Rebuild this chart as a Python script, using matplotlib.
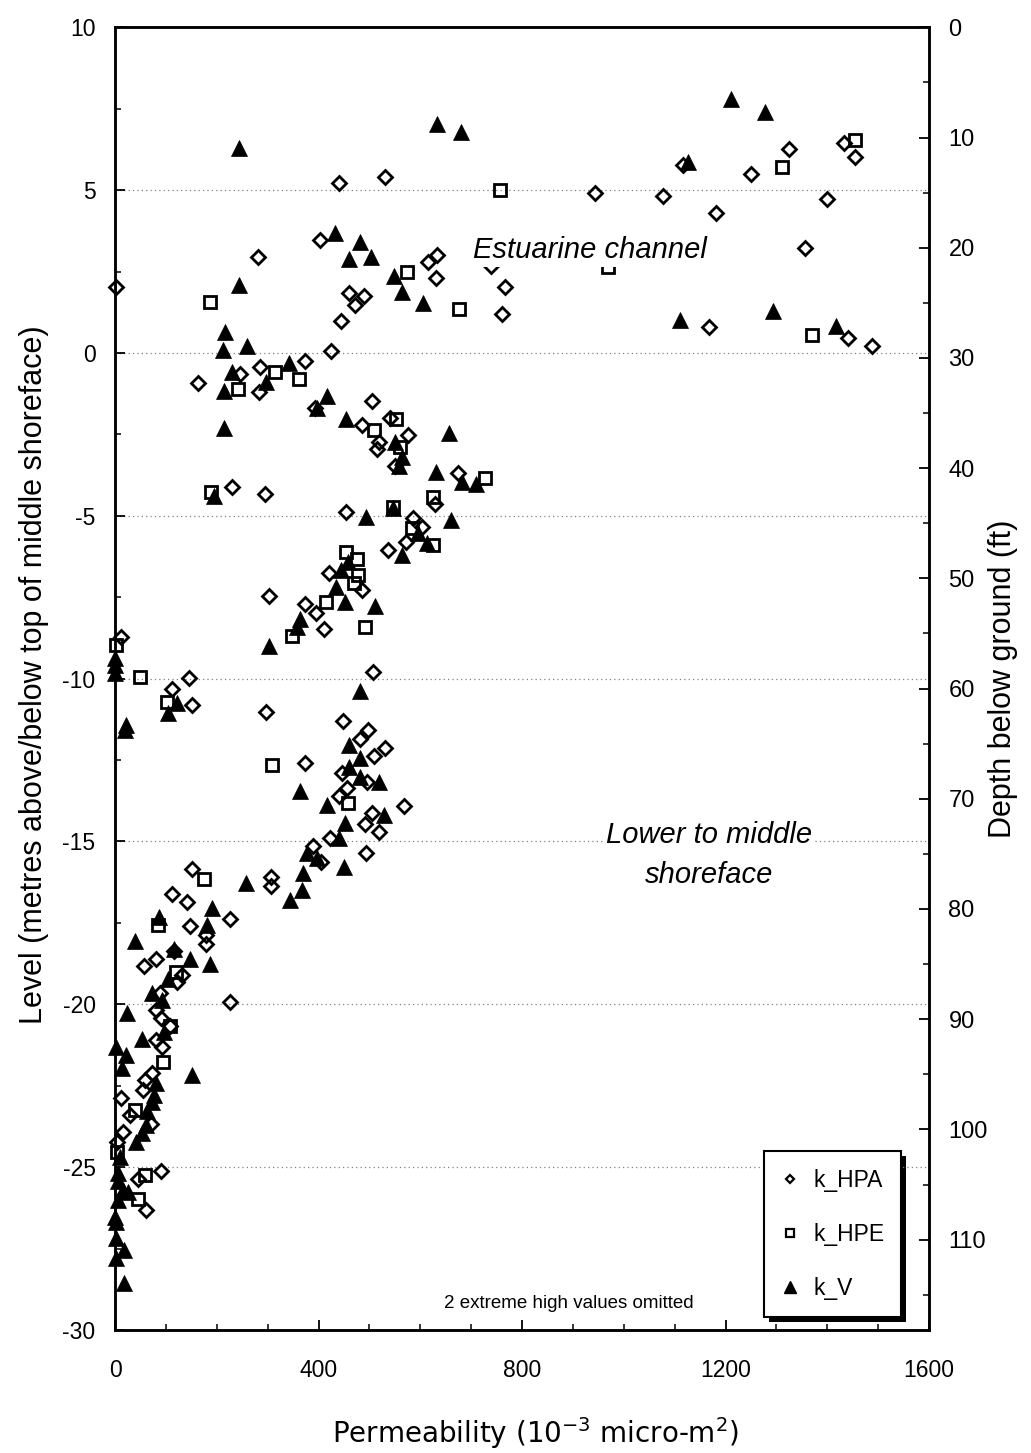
import matplotlib
matplotlib.use("Agg")
import matplotlib.pyplot as plt
from matplotlib.lines import Line2D
from matplotlib.patches import Rectangle
from matplotlib import font_manager, transforms
from matplotlib.ticker import MultipleLocator

# ---------------- data ----------------
# k_HPA (open diamonds): permeability (1e-3 micro-m2), level (m)
hpa_perm = [440, 530, 403, 281, 2, 616, 633, 630, 459, 490, 472, 444, 766, 760, 424, 739,
            1325, 1250, 1432, 1455, 1116, 944, 1078, 1182, 1400, 1357, 1168, 1441, 1488,
            374, 164, 245, 285, 284, 394, 505, 486, 540, 518, 515, 576, 550, 674,
            230, 295, 629, 455, 585, 603, 572, 537, 421, 486, 302, 373, 395, 411, 12,
            146, 508, 112, 152, 296, 448, 497, 481, 530, 509, 374, 447, 495, 456, 441,
            569, 505, 492, 519, 423, 389, 404, 494, 306, 307, 151, 113, 141, 226, 148,
            179, 179, 115, 80, 57, 131, 122, 88, 226, 80, 90, 109, 80, 93, 73, 59, 56,
            11, 29, 70, 16, 4, 91, 45, 61]
hpa_level = [5.23, 5.39, 3.47, 2.94, 2.04, 2.78, 3.01, 2.29, 1.85, 1.76, 1.47, 0.99, 2.04, 1.19, 0.06, 2.67,
             6.26, 5.50, 6.46, 6.03, 5.77, 4.90, 4.83, 4.29, 4.73, 3.21, 0.79, 0.47, 0.21,
             -0.24, -0.91, -0.64, -0.44, -1.19, -1.70, -1.47, -2.21, -1.99, -2.72, -2.95, -2.52, -3.47, -3.68,
             -4.10, -4.33, -4.64, -4.87, -5.08, -5.33, -5.79, -6.05, -6.76, -7.28, -7.46, -7.72, -7.99, -8.47, -8.71,
             -9.99, -9.80, -10.33, -10.81, -11.01, -11.30, -11.58, -11.85, -12.12, -12.37, -12.60, -12.89, -13.16, -13.35, -13.60,
             -13.90, -14.13, -14.46, -14.70, -14.90, -15.13, -15.62, -15.34, -16.08, -16.36, -15.84, -16.61, -16.85, -17.38, -17.61,
             -17.87, -18.15, -18.35, -18.62, -18.82, -19.10, -19.30, -19.66, -19.92, -20.17, -20.41, -20.68, -21.09, -21.32, -22.10, -22.32, -22.63,
             -22.88, -23.39, -23.67, -23.91, -24.22, -25.11, -25.37, -26.31]

# k_HPE (open squares)
hpe_perm = [757, 187, 573, 676, 970, 1311, 1454, 1371, 241, 314, 361, 509, 553, 561, 727,
            188, 626, 547, 583, 626, 455, 476, 478, 470, 414, 491, 347, 2, 50, 102,
            309, 458, 175, 85, 119, 109, 94, 39, 4, 58, 46]
hpe_level = [5.00, 1.58, 2.48, 1.34, 2.65, 5.70, 6.54, 0.55, -1.11, -0.59, -0.80, -2.36, -2.04, -2.88, -3.85,
             -4.26, -4.43, -4.72, -5.38, -5.90, -6.10, -6.33, -6.82, -7.05, -7.64, -8.40, -8.69, -8.97, -9.96, -10.71,
             -12.65, -13.83, -16.16, -17.56, -19.02, -20.68, -21.76, -23.24, -24.52, -25.24, -25.98]

# k_V (filled triangles)
kv_perm = [244, 633, 680, 432, 482, 459, 504, 244, 549, 565, 606, 217, 213, 260,
           1211, 1277, 1127, 1111, 1293, 1418,
           342, 229, 214, 296, 215, 417, 397, 454, 550, 564, 558, 656, 630, 682, 709,
           194, 494, 547, 660, 596, 613, 565, 458, 445, 435, 453, 511, 363, 357, 303,
           0, 0, 0, 121, 105, 22, 20, 482, 459, 481, 459, 482, 518, 363, 416, 528, 452,
           440, 377, 398, 450, 370, 367, 344, 257, 191, 181, 87, 39, 115, 148, 186, 105, 72,
           93, 24, 97, 54, 1, 22, 14, 152, 80, 77, 73, 63, 60, 54, 41, 10, 5, 5, 25, 15,
           5, 0, 2, 2, 18, 1, 17]
kv_level = [6.29, 7.04, 6.79, 3.68, 3.42, 2.88, 2.96, 2.09, 2.36, 1.88, 1.53, 0.65, 0.09, 0.21,
            7.80, 7.41, 5.87, 1.01, 1.30, 0.83,
            -0.30, -0.59, -1.16, -0.88, -2.31, -1.32, -1.70, -2.04, -2.72, -3.18, -3.47, -2.47, -3.64, -3.95, -4.02,
            -4.39, -5.03, -4.75, -5.13, -5.54, -5.82, -6.20, -6.41, -6.66, -7.18, -7.65, -7.76, -8.18, -8.40, -9.00,
            -9.37, -9.58, -9.83, -10.76, -11.06, -11.42, -11.57, -10.37, -12.04, -12.44, -12.70, -13.03, -13.16, -13.45, -13.88, -14.18, -14.44,
            -14.90, -15.34, -15.51, -15.77, -15.97, -16.49, -16.79, -16.26, -17.05, -17.56, -17.31, -18.05, -18.31, -18.61, -18.76, -19.23, -19.66,
            -19.86, -20.26, -20.84, -21.07, -21.30, -21.55, -21.96, -22.17, -22.42, -22.78, -22.99, -23.29, -23.70, -23.96, -24.22, -24.68, -25.19, -25.44, -25.75, -25.70,
            -26.00, -26.52, -26.68, -27.18, -27.54, -27.80, -28.55]

series_labels = ["k_HPA", "k_HPE", "k_V"]

x_ticks = [0, 400, 800, 1200, 1600]
y_ticks = [-30, -25, -20, -15, -10, -5, 0, 5, 10]
depth_ticks = [0, 10, 20, 30, 40, 50, 60, 70, 80, 90, 100, 110]
depth_at_top = 0.0       # depth (ft) at level +10 m
depth_at_bottom = 118.2  # depth (ft) at level -30 m

# ---------------- fonts ----------------
available = {f.name for f in font_manager.fontManager.ttflist}
def pick(*names):
    for n in names:
        if n in available:
            return n
    return "DejaVu Sans"
SANS = pick("Liberation Sans", "Arial", "DejaVu Sans")
VERD = pick("DejaVu Sans")
plt.rcParams["font.family"] = SANS

# ---------------- figure ----------------
W, H = 1031, 1453
fig = plt.figure(figsize=(W / 100, H / 100), dpi=100)
ax_l, ax_r, ax_t, ax_b = 115, 929, 27.3, 1330
ax = fig.add_axes([ax_l / W, 1 - ax_b / H, (ax_r - ax_l) / W, (ax_b - ax_t) / H])
ax.set_xlim(0, 1600)
ax.set_ylim(-30, 10)

mk = dict(ls="none", clip_on=False, zorder=2)
ax.plot(hpa_perm, hpa_level, marker="D", ms=6.8, mfc="none", mec="k", mew=2.0, **mk)
ax.plot(hpe_perm, hpe_level, marker="s", ms=8.4, mfc="none", mec="k", mew=2.0, **mk)
ax.plot(kv_perm, kv_level, marker="^", ms=11.5, mfc="k", mec="k", mew=0.5, **mk)

# grid
ax.set_yticks(y_ticks)
ax.set_xticks(x_ticks)
ax.yaxis.set_minor_locator(MultipleLocator(2.5))
ax.xaxis.set_minor_locator(MultipleLocator(100))
ax.yaxis.grid(True, which="major", color="#808080", lw=0.9, ls=(0, (1, 2.5)))
ax.set_axisbelow(True)

ax.tick_params(axis="both", which="both", direction="in", top=False, right=False)
ax.tick_params(axis="both", which="major", length=7, width=1.3, labelsize=16.5)
ax.tick_params(axis="both", which="minor", length=4, width=1.1)
ax.tick_params(axis="x", pad=21)
ax.tick_params(axis="y", pad=14)
ax.set_yticklabels([f"{v}" for v in y_ticks])
for s in ax.spines.values():
    s.set_linewidth(1.8)

# right depth axis
ax2 = ax.twinx()
ax2.set_ylim(depth_at_bottom, depth_at_top)
ax2.set_yticks(depth_ticks)
ax2.yaxis.set_minor_locator(MultipleLocator(5))
ax2.tick_params(axis="y", which="both", direction="in", pad=14)
ax2.tick_params(axis="y", which="major", length=7, width=1.3, labelsize=17)
ax2.tick_params(axis="y", which="minor", length=4, width=1.1)
for s in ax2.spines.values():
    s.set_linewidth(1.8)

# axis labels
fig.text(34 / W, 1 - 675 / H, "Level (metres above/below top of middle shoreface)",
         rotation=90, ha="center", va="center", fontsize=22, family=SANS)
fig.text(1003 / W, 1 - 679 / H, "Depth below ground (ft)",
         rotation=90, ha="center", va="center", fontsize=22, family=SANS)
fig.text(535 / W, 1 - 1433 / H, r"Permeability (10$^{-3}$ micro-m$^{2}$)",
         ha="center", va="center", fontsize=20, family=VERD)

# annotations
wb = dict(facecolor="white", edgecolor="none", pad=2)
ax.text(933, 2.91, "Estuarine channel", style="italic", fontsize=21, ha="center",
        va="baseline", zorder=3, bbox=wb)
ax.text(1167, -15.05, "Lower to middle", style="italic", fontsize=21, ha="center",
        va="baseline", zorder=3, bbox=wb)
ax.text(1167, -16.27, "shoreface", style="italic", fontsize=21, ha="center",
        va="baseline", zorder=3, bbox=wb)
ax.text(892, -29.2, "2 extreme high values omitted", fontsize=13.5, ha="center",
        va="center", zorder=3)

# legend
handles = [
    Line2D([], [], ls="none", marker="D", ms=4.5, mfc="none", mec="k", mew=1.6),
    Line2D([], [], ls="none", marker="s", ms=6.2, mfc="none", mec="k", mew=1.6),
    Line2D([], [], ls="none", marker="^", ms=8.5, mfc="k", mec="k"),
]
leg = ax.legend(handles, series_labels, loc="lower left", bbox_to_anchor=(0.797, 0.0102),
                fontsize=16.5, frameon=True, fancybox=False, borderpad=0.75,
                labelspacing=1.35, handlelength=0.8, handletextpad=0.6,
                borderaxespad=0, framealpha=1)
leg.get_frame().set_edgecolor("k")
leg.get_frame().set_linewidth(1.5)
leg.set_zorder(6)
fig.canvas.draw()
bb = leg.get_frame().get_window_extent(fig.canvas.get_renderer())
shadow = Rectangle((bb.x0 + 5, bb.y0 - 5), bb.width, bb.height, facecolor="k",
                   edgecolor="none", transform=transforms.IdentityTransform(),
                   zorder=5.9, clip_on=False)
ax2.add_artist(shadow)
ax2.set_zorder(-1)
ax.set_zorder(1)
ax.patch.set_visible(False)
ax2.patch.set_facecolor("white")

fig.savefig("out.png", dpi=100)
